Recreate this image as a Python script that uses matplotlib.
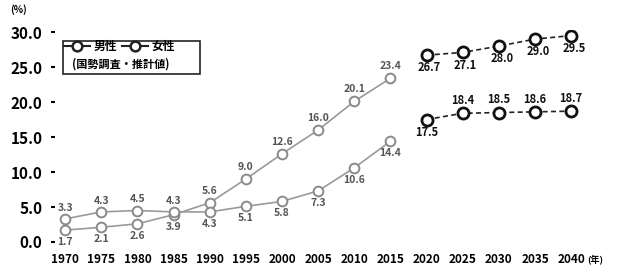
import matplotlib.pyplot as plt
from matplotlib.lines import Line2D
from matplotlib.patches import Rectangle

plt.rcParams['font.family'] = ['Noto Sans CJK JP', 'DejaVu Sans']
plt.rcParams['font.weight'] = 'bold'

# observed values (census)
years_obs = [1970, 1975, 1980, 1985, 1990, 1995, 2000, 2005, 2010, 2015]
male_obs = [1.7, 2.1, 2.6, 3.9, 5.6, 9.0, 12.6, 16.0, 20.1, 23.4]
female_obs = [3.3, 4.3, 4.5, 4.3, 4.3, 5.1, 5.8, 7.3, 10.6, 14.4]

# projected values
years_proj = [2020, 2025, 2030, 2035, 2040]
male_proj = [26.7, 27.1, 28.0, 29.0, 29.5]
female_proj = [17.5, 18.4, 18.5, 18.6, 18.7]

yticks = [0, 5, 10, 15, 20, 25, 30]
xticks = years_obs + years_proj

W, H = 619, 272
fig = plt.figure(figsize=(W / 100, H / 100), dpi=100)
ax = fig.add_axes([55 / W, 1 - 245 / H, (595 - 55) / W, (245 - 30) / H])

obs_kw = dict(color='#9a9a9a', lw=1.2, marker='o', ms=7, mfc='white',
              mec='#8a8a8a', mew=1.4)
proj_kw = dict(color='#222222', lw=1.2, ls=(0, (3, 2)), marker='o', ms=8,
               mfc='white', mec='#111111', mew=2.0)

ax.plot(years_obs, male_obs, **obs_kw)
ax.plot(years_obs, female_obs, **obs_kw)
ax.plot(years_proj, male_proj, **proj_kw)
ax.plot(years_proj, female_proj, **proj_kw)

lab_obs = dict(fontsize=7.5, color='#555555', ha='center', fontweight='bold')
lab_proj = dict(fontsize=8, color='#111111', ha='center', fontweight='bold')

for x, m, f in zip(years_obs, male_obs, female_obs):
    if x < 1990:
        ax.text(x, m - 1.0, f'{m:.1f}', va='top', **lab_obs)
        ax.text(x, f + 0.9, f'{f:.1f}', va='bottom', **lab_obs)
    else:
        ax.text(x, m + 1.0, f'{m:.1f}', va='bottom', **lab_obs)
        ax.text(x, f - 1.0, f'{f:.1f}', va='top', **lab_obs)

for i, (x, m, f) in enumerate(zip(years_proj, male_proj, female_proj)):
    ax.text(x + 0.4, m - 0.9, f'{m:.1f}', va='top', **lab_proj)
    if i == 0:
        ax.text(x, f - 0.9, f'{f:.1f}', va='top', **lab_proj)
    else:
        ax.text(x, f + 0.9, f'{f:.1f}', va='bottom', **lab_proj)

ax.set_xlim(1968.6, 2043.3)
ax.set_ylim(-0.43, 30.3)
ax.set_yticks(yticks)
ax.set_yticklabels([f'{v:.1f}' for v in yticks], fontsize=11, fontweight='bold')
ax.set_xticks(xticks)
ax.set_xticklabels([str(v) for v in xticks], fontsize=8.5, fontweight='bold')
ax.tick_params(axis='y', length=3, width=1.5, pad=6)
ax.tick_params(axis='x', length=0, pad=6)
for s in ax.spines.values():
    s.set_visible(False)

fig.text(10 / W, 1 - 10 / H, '(%)', fontsize=7, fontweight='bold', va='center')
fig.text(587 / W, 1 - 259 / H, '(年)', fontsize=6.5, fontweight='bold', va='center')

# legend box
fig.patches.append(Rectangle((63 / W, 1 - 74 / H), 137 / W, 33 / H,
                             transform=fig.transFigure, fill=False,
                             ec='#222222', lw=1.2))
handle = Line2D([], [], color='#222222', lw=1.5, marker='o', ms=7,
                mfc='white', mec='#222222', mew=1.8)
leg = fig.legend([handle, handle], ['男性', '女性'], ncol=2,
                 loc='upper left', bbox_to_anchor=(64 / W, 1 - 40 / H),
                 frameon=False, fontsize=8.5, handlelength=2.2,
                 handletextpad=0.3, columnspacing=0.4,
                 borderpad=0, borderaxespad=0)
fig.text(72 / W, 1 - 64 / H, '(国勢調査・推計値)', fontsize=8,
         fontweight='bold', va='center')

fig.savefig('out.png', dpi=100)
